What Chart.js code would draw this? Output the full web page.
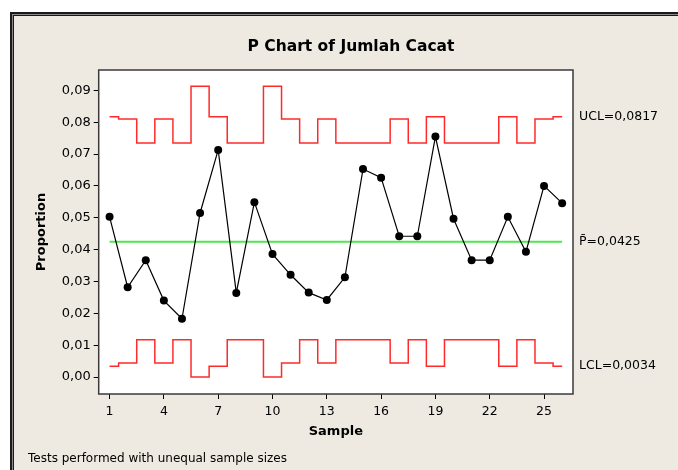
<!DOCTYPE html>
<html>
<head>
<meta charset="utf-8">
<script src="https://cdn.jsdelivr.net/npm/chart.js@4"></script>
<style>
  html, body { margin: 0; padding: 0; background: #fff; }
  #wrap { position: absolute; left: 0; top: 0; width: 678px; height: 470px; }
</style>
</head>
<body>
<div id="wrap"><canvas id="pchart" width="678" height="470"></canvas></div>
<script>
// P chart data
const samples = [1, 2, 3, 4, 5, 6, 7, 8, 9, 10, 11, 12, 13, 14, 15, 16, 17, 18, 19, 20, 21, 22, 23, 24, 25, 26];
const proportion = [0.0503, 0.0282, 0.0367, 0.0240, 0.0183, 0.0515, 0.0713, 0.0264, 0.0549, 0.0386,
  0.0321, 0.0265, 0.0242, 0.0313, 0.0653, 0.0626, 0.0442, 0.0442, 0.0755, 0.0497,
  0.0367, 0.0367, 0.0503, 0.0393, 0.0600, 0.0546];
const ucl = [0.0817, 0.0810, 0.0735, 0.0810, 0.0735, 0.0913, 0.0817, 0.0735, 0.0735, 0.0913,
  0.0810, 0.0735, 0.0810, 0.0735, 0.0735, 0.0735, 0.0810, 0.0735, 0.0817, 0.0735,
  0.0735, 0.0735, 0.0817, 0.0735, 0.0810, 0.0817];
const lcl = [0.0034, 0.0044, 0.0117, 0.0044, 0.0117, 0, 0.0034, 0.0117, 0.0117, 0,
  0.0044, 0.0117, 0.0044, 0.0117, 0.0117, 0.0117, 0.0044, 0.0117, 0.0034, 0.0117,
  0.0117, 0.0117, 0.0034, 0.0117, 0.0044, 0.0034];
const pBar = 0.0425;

const xTicks = [1, 4, 7, 10, 13, 16, 19, 22, 25];
const yTicks = [0, 0.01, 0.02, 0.03, 0.04, 0.05, 0.06, 0.07, 0.08, 0.09];
const limitLabels = ['UCL=0,0817', 'P\u0304=0,0425', 'LCL=0,0034'];
const limitLevels = [0.0817, 0.0425, 0.0034];

const chartTitle = 'P Chart of Jumlah Cacat';
const footNote = 'Tests performed with unequal sample sizes';

const FONT = '"DejaVu Sans", sans-serif';
const comma = (v, d) => v.toFixed(d).replace('.', ',');
const pts = (arr) => arr.map((v, i) => ({ x: samples[i], y: v }));

// background, frame and the extra texts
const minitabDecor = {
  id: 'minitabDecor',
  beforeDraw(chart) {
    const { ctx, chartArea: a } = chart;
    ctx.save();
    ctx.fillStyle = '#ffffff';
    ctx.fillRect(0, 0, 678, 470);
    ctx.fillStyle = '#1a1a1a';
    ctx.fillRect(10, 12, 668, 458);
    ctx.fillStyle = '#8a8a8a';
    ctx.fillRect(12, 14, 666, 456);
    ctx.fillStyle = '#1a1a1a';
    ctx.fillRect(13, 15, 665, 455);
    ctx.fillStyle = '#eeeae1';
    ctx.fillRect(14, 16, 664, 454);
    ctx.fillStyle = '#ffffff';
    ctx.fillRect(a.left, a.top, a.right - a.left, a.bottom - a.top);
    ctx.restore();
  },
  afterDraw(chart) {
    const { ctx, chartArea: a, scales } = chart;
    ctx.save();
    ctx.strokeStyle = '#3a3a3a';
    ctx.lineWidth = 1.5;
    ctx.strokeRect(a.left, a.top, a.right - a.left, a.bottom - a.top);

    ctx.fillStyle = '#000';
    ctx.font = 'bold 15.5px ' + FONT;
    ctx.textAlign = 'center';
    ctx.textBaseline = 'middle';
    ctx.fillText(chartTitle, 351, 47);

    ctx.font = '12.5px ' + FONT;
    ctx.textAlign = 'left';
    limitLabels.forEach((t, i) => {
      ctx.fillText(t, 579, scales.y.getPixelForValue(limitLevels[i]));
    });
    ctx.font = '12px ' + FONT;
    ctx.fillText(footNote, 28, 459);
    ctx.restore();
  },
};

new Chart(document.getElementById('pchart'), {
  type: 'scatter',
  data: {
    datasets: [
      {
        label: 'Proportion',
        data: pts(proportion),
        showLine: true,
        borderColor: '#000',
        borderWidth: 1.2,
        backgroundColor: '#000',
        pointRadius: 4,
        pointBorderWidth: 0,
      },
      {
        label: 'P',
        data: [{ x: samples[0], y: pBar }, { x: samples[samples.length - 1], y: pBar }],
        showLine: true,
        borderColor: '#4ee84e',
        borderWidth: 2,
        pointRadius: 0,
      },
      {
        label: 'UCL',
        data: pts(ucl),
        showLine: true,
        stepped: 'middle',
        borderColor: '#ff2a2a',
        borderWidth: 1.5,
        pointRadius: 0,
      },
      {
        label: 'LCL',
        data: pts(lcl),
        showLine: true,
        stepped: 'middle',
        borderColor: '#ff2a2a',
        borderWidth: 1.5,
        pointRadius: 0,
      },
    ],
  },
  options: {
    responsive: false,
    animation: false,
    events: [],
    layout: { padding: { left: 34, right: 105, top: 70, bottom: 30 } },
    plugins: {
      legend: { display: false },
      tooltip: { enabled: false },
    },
    scales: {
      x: {
        type: 'linear',
        min: 0.4,
        max: 26.6,
        afterFit: (s) => { s.height = 46; },
        afterBuildTicks: (s) => { s.ticks = xTicks.map((v) => ({ value: v })); },
        grid: { drawOnChartArea: false, drawTicks: true, tickLength: 5, color: '#000' },
        border: { display: false },
        ticks: {
          color: '#000',
          padding: 5,
          maxRotation: 0,
          autoSkip: false,
          font: { family: FONT, size: 12.5 },
          callback: (v) => String(v),
        },
        title: {
          display: true,
          text: 'Sample',
          color: '#000',
          padding: { top: 0, bottom: 1 },
          font: { family: FONT, size: 13, weight: 'bold' },
        },
      },
      y: {
        type: 'linear',
        min: -0.00533,
        max: 0.0964,
        afterFit: (s) => { s.width = 64.7; },
        afterBuildTicks: (s) => { s.ticks = yTicks.map((v) => ({ value: v })); },
        grid: { drawOnChartArea: false, drawTicks: true, tickLength: 5, color: '#000' },
        border: { display: false },
        ticks: {
          color: '#000',
          padding: 3,
          autoSkip: false,
          font: { family: FONT, size: 13 },
          callback: (v) => comma(v, 2),
        },
        title: {
          display: true,
          text: 'Proportion',
          color: '#000',
          padding: 0,
          font: { family: FONT, size: 13, weight: 'bold' },
        },
      },
    },
  },
  plugins: [minitabDecor],
});
</script>
</body>
</html>
